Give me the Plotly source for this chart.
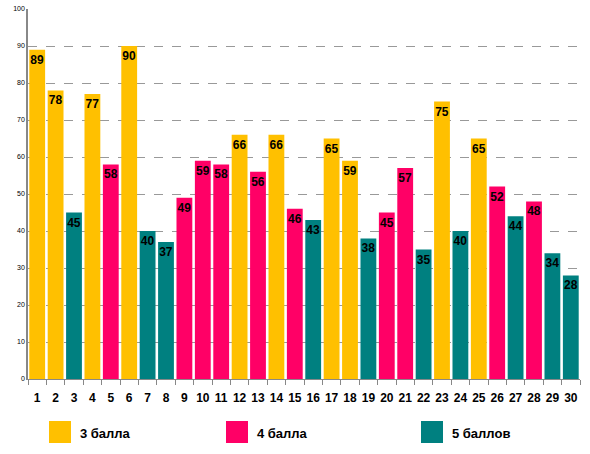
import plotly.graph_objects as go

# scores per student
students = [str(i) for i in range(1, 31)]
values = [89, 78, 45, 77, 58, 90, 40, 37, 49, 59, 58, 66, 56, 66, 46,
          43, 65, 59, 38, 45, 57, 35, 75, 40, 65, 52, 44, 48, 34, 28]
grades = [3, 3, 5, 3, 4, 3, 5, 5, 4, 4, 4, 3, 4, 3, 4,
          5, 3, 3, 5, 4, 4, 5, 3, 5, 3, 4, 5, 4, 5, 5]

grade_names = {3: '3 балла', 4: '4 балла', 5: '5 баллов'}
grade_colors = {3: '#FFC000', 4: '#FF0066', 5: '#008080'}

W, H = 590, 454
L, R, T, B = 28, 10, 9, 75

fig = go.Figure()
fig.add_trace(go.Bar(
    x=students, y=values,
    marker=dict(color=[grade_colors[g] for g in grades], line=dict(width=0)),
    text=values, textposition='inside', insidetextanchor='end',
    textfont=dict(family='Liberation Sans', size=12, color='black'),
    texttemplate='<b>%{text}</b>',
    showlegend=False, hoverinfo='x+y',
))

# hand-made legend: swatch + label for each grade
legend_x = {3: 49, 4: 226, 5: 421}
pw, ph = W - L - R, H - T - B
def px(v):
    return (v - L) / pw
def py(v):
    return (H - B - v) / ph

for g, x0 in legend_x.items():
    fig.add_shape(type='rect', xref='paper', yref='paper',
                  x0=px(x0), x1=px(x0 + 22), y0=py(443), y1=py(421),
                  fillcolor=grade_colors[g], line=dict(width=0))
    fig.add_annotation(xref='paper', yref='paper', x=px(x0 + 29), y=py(433),
                       text='<b>' + grade_names[g] + '</b>', showarrow=False,
                       xanchor='left', yanchor='middle',
                       font=dict(family='Liberation Sans', size=13, color='black'))

fig.update_layout(
    width=W, height=H,
    margin=dict(l=L, r=R, t=T, b=B, autoexpand=False),
    plot_bgcolor='white', paper_bgcolor='white',
    bargap=0.14,
    uniformtext=dict(minsize=11, mode='show'),
    xaxis=dict(type='category', tickson='boundaries', ticks='outside',
               ticklen=5, tickcolor='#888888', showline=True,
               linecolor='#888888', linewidth=1, showgrid=False,
               automargin=False,
               tickfont=dict(family='Liberation Sans', size=12, color='black'),
               tickprefix='<b>', ticksuffix='</b>',
               tickangle=0, ticklabelstandoff=8),
    yaxis=dict(range=[0, 100], dtick=10, showline=True, linecolor='#888888',
               linewidth=1.5, showgrid=True, gridcolor='#999999',
               griddash='dash', gridwidth=1, zeroline=False, ticks='',
               automargin=False,
               tickfont=dict(family='Liberation Sans', size=7, color='black')),
)

fig.write_html("out.html", config={'displayModeBar': False},
               post_script="document.body.style.margin='0';")
